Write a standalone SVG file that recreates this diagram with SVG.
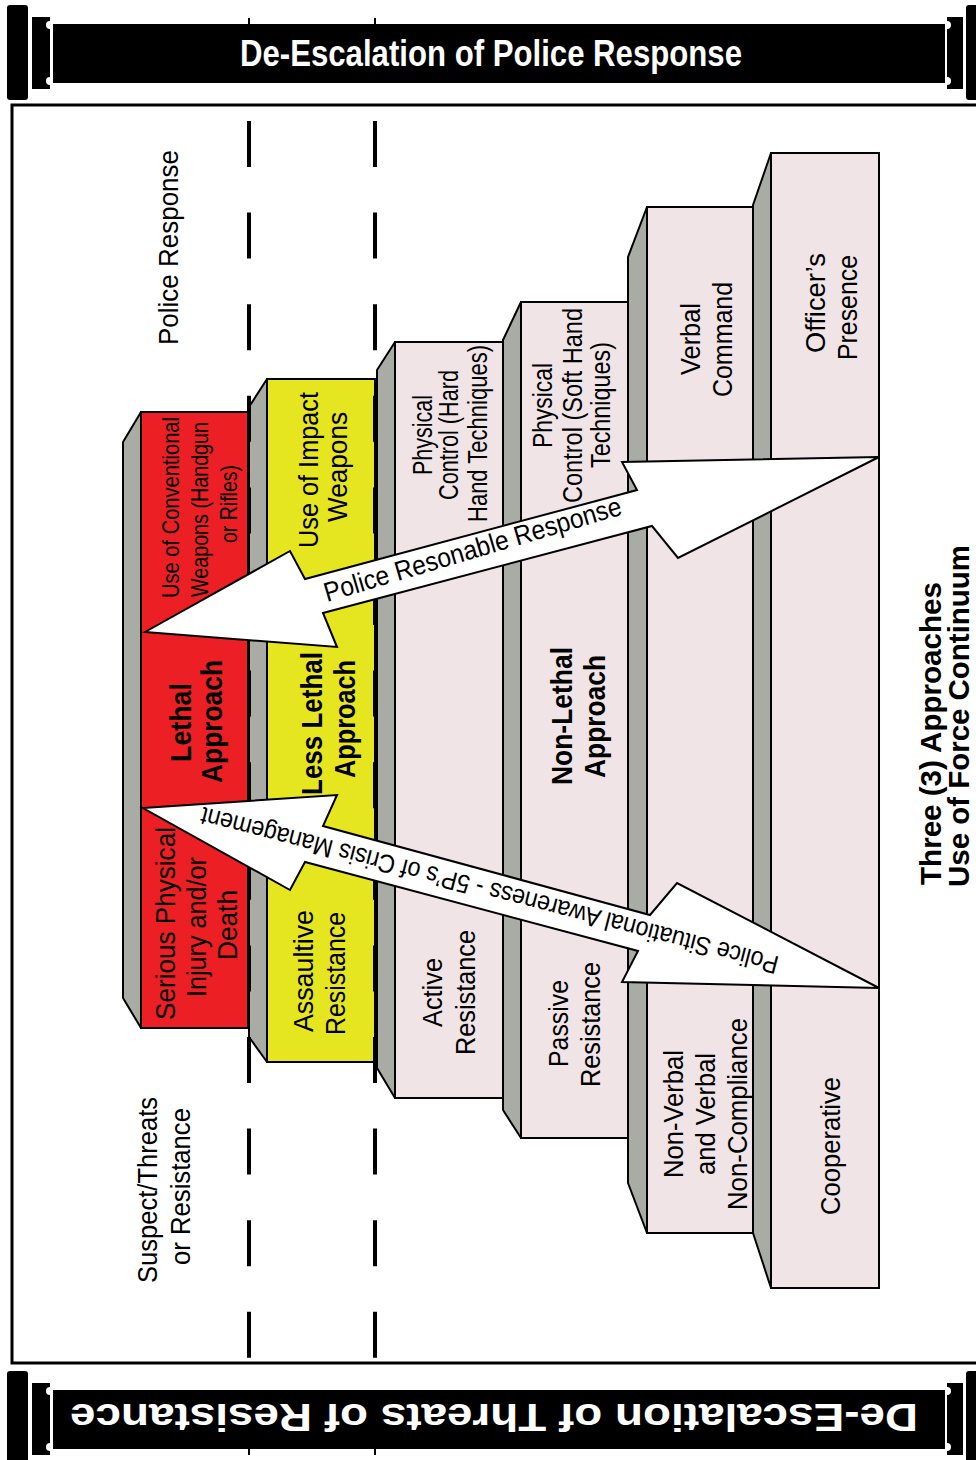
<svg xmlns="http://www.w3.org/2000/svg" width="976" height="1460" viewBox="0 0 976 1460">
<style>
.t{font-family:"Liberation Sans",Arial,sans-serif;fill:#000}
.r{font-size:27px}
.s{font-size:24px}
.m{font-size:28px}
.b{font-size:29px;font-weight:bold}
.side{fill:#A8ACA5;stroke:#000;stroke-width:2;stroke-linejoin:round}
.face{stroke:#000;stroke-width:2}
.pink{fill:#F0E4E7}
.dash{stroke:#000;stroke-width:4;stroke-dasharray:46 45.6}
.arrow{fill:#fff;stroke:#000;stroke-width:2;stroke-linejoin:miter}
.bn{fill:#000}
.tick{stroke:#000;stroke-width:2}
</style>
<rect width="976" height="1460" fill="#fff"/>
<g id="banner-top">
<line class="tick" x1="249" y1="18" x2="249" y2="24"/>
<line class="tick" x1="375" y1="18" x2="375" y2="24"/>
<rect class="bn" x="7" y="5" width="21" height="95" rx="3"/>
<path class="bn" d="M32,17 H50 V21 A4,4 0 0 0 50,29 V77 A4,4 0 0 0 50,85 V89 H32 Z"/>
<rect class="bn" x="53" y="24" width="892" height="59"/>
<path class="bn" d="M963,17 H947 V21 A4,4 0 0 1 947,29 V77 A4,4 0 0 1 947,85 V89 H963 Z"/>
<rect class="bn" x="966" y="5" width="21" height="95" rx="3"/>
<text x="240" y="66" font-family="Liberation Sans, Arial, sans-serif" font-size="37" font-weight="bold" fill="#fff" textLength="502" lengthAdjust="spacingAndGlyphs">De-Escalation of Police Response</text>
</g>
<g id="banner-bottom">
<line class="tick" x1="249" y1="1449" x2="249" y2="1455"/>
<line class="tick" x1="375" y1="1449" x2="375" y2="1455"/>
<g transform="translate(0,1366)">
<rect class="bn" x="7" y="5" width="21" height="95" rx="3"/>
<path class="bn" d="M32,17 H50 V21 A4,4 0 0 0 50,29 V77 A4,4 0 0 0 50,85 V89 H32 Z"/>
<rect class="bn" x="53" y="24" width="892" height="59"/>
<path class="bn" d="M963,17 H947 V21 A4,4 0 0 1 947,29 V77 A4,4 0 0 1 947,85 V89 H963 Z"/>
<rect class="bn" x="966" y="5" width="21" height="95" rx="3"/>
</g>
<text x="70" y="1432" transform="rotate(180 494 1418)" font-family="Liberation Sans, Arial, sans-serif" font-size="39" font-weight="bold" fill="#fff" textLength="848" lengthAdjust="spacingAndGlyphs">De-Escalation of Threats of Resistance</text>
</g>
<rect id="frame" x="12" y="105" width="990" height="1258" fill="none" stroke="#000" stroke-width="3"/>
<g id="headers">
<text class="t r" transform="translate(0,345) rotate(-90)" y="178" textLength="195" lengthAdjust="spacingAndGlyphs">Police Response</text>
<text class="t r" transform="translate(0,1283) rotate(-90)" y="157" textLength="186" lengthAdjust="spacingAndGlyphs">Suspect/Threats</text>
<text class="t r" transform="translate(0,1265) rotate(-90)" y="190" textLength="157" lengthAdjust="spacingAndGlyphs">or Resistance</text>
</g>
<g id="col-lethal">
<polygon class="side" points="123,442 141,412 141,1028 123,998"/>
<rect class="face" x="141" y="412" width="107" height="616" fill="#EC2024"/>
<text class="t s" transform="translate(0,598) rotate(-90)" y="179" textLength="181" lengthAdjust="spacingAndGlyphs">Use of Conventional</text>
<text class="t s" transform="translate(0,597) rotate(-90)" y="208" textLength="175" lengthAdjust="spacingAndGlyphs">Weapons (Handgun</text>
<text class="t s" transform="translate(0,543) rotate(-90)" y="237" textLength="78" lengthAdjust="spacingAndGlyphs">or Rifles)</text>
<text class="t b" transform="translate(0,762) rotate(-90)" y="191" textLength="79" lengthAdjust="spacingAndGlyphs">Lethal</text>
<text class="t b" transform="translate(0,783) rotate(-90)" y="222" textLength="123" lengthAdjust="spacingAndGlyphs">Approach</text>
<text class="t m" transform="translate(0,1020) rotate(-90)" y="175" textLength="193" lengthAdjust="spacingAndGlyphs">Serious Physical</text>
<text class="t m" transform="translate(0,997) rotate(-90)" y="206" textLength="140" lengthAdjust="spacingAndGlyphs">Injury and/or</text>
<text class="t m" transform="translate(0,960) rotate(-90)" y="237" textLength="70" lengthAdjust="spacingAndGlyphs">Death</text>
</g>
<g id="col-less-lethal">
<polygon class="side" points="249,407 267,379 267,1062 249,1037"/>
<rect class="face" x="267" y="379" width="108" height="683" fill="#E5E520"/>
<text class="t r" transform="translate(0,548) rotate(-90)" y="318" textLength="156" lengthAdjust="spacingAndGlyphs">Use of Impact</text>
<text class="t r" transform="translate(0,522) rotate(-90)" y="347" textLength="110" lengthAdjust="spacingAndGlyphs">Weapons</text>
<text class="t b" transform="translate(0,795) rotate(-90)" y="322" textLength="143" lengthAdjust="spacingAndGlyphs">Less Lethal</text>
<text class="t b" transform="translate(0,778) rotate(-90)" y="355" textLength="118" lengthAdjust="spacingAndGlyphs">Approach</text>
<text class="t r" transform="translate(0,1032) rotate(-90)" y="313" textLength="122" lengthAdjust="spacingAndGlyphs">Assaultive</text>
<text class="t r" transform="translate(0,1035) rotate(-90)" y="345" textLength="123" lengthAdjust="spacingAndGlyphs">Resistance</text>
</g>
<g id="col-hard">
<polygon class="side" points="377,370 395,342 395,1098 377,1068"/>
<rect class="face pink" x="395" y="342" width="108" height="756"/>
<text class="t r" transform="translate(0,475) rotate(-90)" y="432" textLength="80" lengthAdjust="spacingAndGlyphs">Physical</text>
<text class="t r" transform="translate(0,500) rotate(-90)" y="458" textLength="130" lengthAdjust="spacingAndGlyphs">Control (Hard</text>
<text class="t r" transform="translate(0,522) rotate(-90)" y="487" textLength="177" lengthAdjust="spacingAndGlyphs">Hand Techniques)</text>
<text class="t r" transform="translate(0,1027) rotate(-90)" y="442" textLength="69" lengthAdjust="spacingAndGlyphs">Active</text>
<text class="t r" transform="translate(0,1055) rotate(-90)" y="475" textLength="125" lengthAdjust="spacingAndGlyphs">Resistance</text>
</g>
<g id="col-soft">
<polygon class="side" points="503,340 521,302 521,1138 503,1110"/>
<rect class="face pink" x="521" y="302" width="107" height="836"/>
<text class="t r" transform="translate(0,448) rotate(-90)" y="552" textLength="85" lengthAdjust="spacingAndGlyphs">Physical</text>
<text class="t r" transform="translate(0,503) rotate(-90)" y="582" textLength="195" lengthAdjust="spacingAndGlyphs">Control (Soft Hand</text>
<text class="t r" transform="translate(0,468) rotate(-90)" y="610" textLength="126" lengthAdjust="spacingAndGlyphs">Techniques)</text>
<text class="t b" transform="translate(0,785) rotate(-90)" y="572" textLength="138" lengthAdjust="spacingAndGlyphs">Non-Lethal</text>
<text class="t b" transform="translate(0,778) rotate(-90)" y="605" textLength="123" lengthAdjust="spacingAndGlyphs">Approach</text>
<text class="t r" transform="translate(0,1067) rotate(-90)" y="568" textLength="87" lengthAdjust="spacingAndGlyphs">Passive</text>
<text class="t r" transform="translate(0,1087) rotate(-90)" y="600" textLength="125" lengthAdjust="spacingAndGlyphs">Resistance</text>
</g>
<g id="col-verbal">
<polygon class="side" points="628,257 647,207 647,1233 628,1183"/>
<rect class="face pink" x="647" y="207" width="106" height="1026"/>
<text class="t r" transform="translate(0,375) rotate(-90)" y="700" textLength="72" lengthAdjust="spacingAndGlyphs">Verbal</text>
<text class="t r" transform="translate(0,397) rotate(-90)" y="732" textLength="115" lengthAdjust="spacingAndGlyphs">Command</text>
<text class="t r" transform="translate(0,1178) rotate(-90)" y="683" textLength="128" lengthAdjust="spacingAndGlyphs">Non-Verbal</text>
<text class="t r" transform="translate(0,1175) rotate(-90)" y="715" textLength="122" lengthAdjust="spacingAndGlyphs">and Verbal</text>
<text class="t r" transform="translate(0,1210) rotate(-90)" y="747" textLength="192" lengthAdjust="spacingAndGlyphs">Non-Compliance</text>
<line x1="745" y1="1097" x2="753" y2="1097" stroke="#000" stroke-width="2"/>
</g>
<g id="col-presence">
<polygon class="side" points="753,205 771,153 771,1288 753,1233"/>
<rect class="face pink" x="771" y="153" width="108" height="1135"/>
<text class="t r" transform="translate(0,353) rotate(-90)" y="825" textLength="100" lengthAdjust="spacingAndGlyphs">Officer’s</text>
<text class="t r" transform="translate(0,360) rotate(-90)" y="857" textLength="105" lengthAdjust="spacingAndGlyphs">Presence</text>
<text class="t r" transform="translate(0,1215) rotate(-90)" y="840" textLength="138" lengthAdjust="spacingAndGlyphs">Cooperative</text>
</g>
<g id="dividers">
<line class="dash" x1="249" y1="121" x2="249" y2="1358"/>
<line class="dash" x1="375" y1="121" x2="375" y2="1358"/>
</g>
<g id="connectors">
<g id="arrow-response">
<polygon class="arrow" points="145,632 290,551 305,579 637,490 622,462 879,457 678,558 652,526 323,613 337,647"/>
<text class="t" font-size="27" transform="translate(327,602) rotate(-16.5)" textLength="309" lengthAdjust="spacingAndGlyphs">Police Resonable Response</text>
</g>
<g id="arrow-awareness">
<polygon class="arrow" points="143,808 337,795 323,826 650,915 677,883 879,988 622,982 638,951 305,862 290,890"/>
<text class="t" font-size="26" transform="translate(780,957) rotate(194.6)" textLength="596" lengthAdjust="spacingAndGlyphs">Police Situational Awareness - 5P’s of Crisis Management</text>
</g>
</g>
<g id="caption">
<text class="t b" transform="translate(0,885) rotate(-90)" y="941" textLength="303" lengthAdjust="spacingAndGlyphs">Three (3) Approaches</text>
<text class="t b" transform="translate(0,887) rotate(-90)" y="969" textLength="342" lengthAdjust="spacingAndGlyphs">Use of Force Continuum</text>
</g>
</svg>
